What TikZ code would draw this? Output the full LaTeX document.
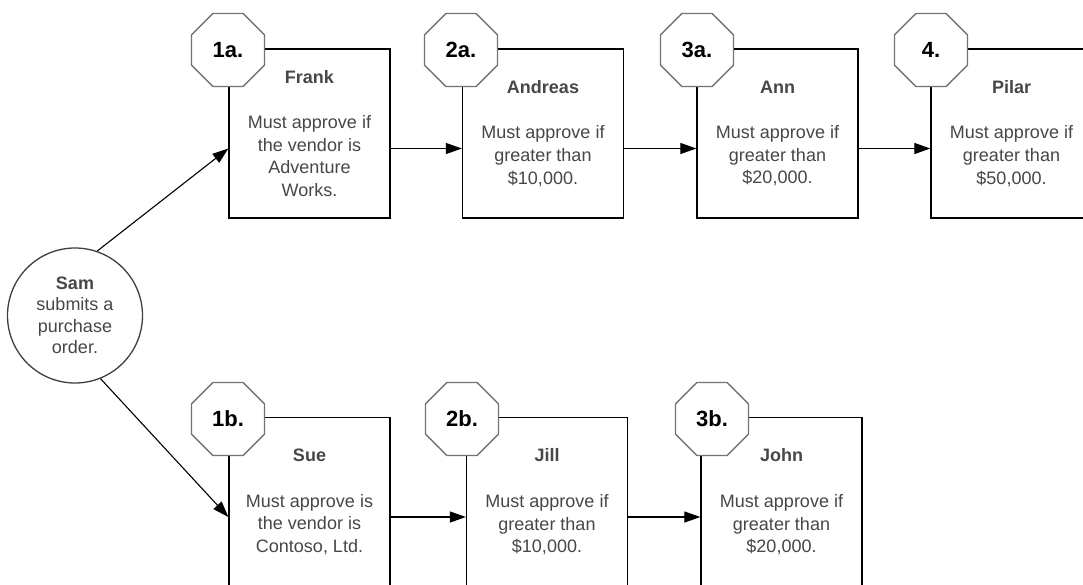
\documentclass[tikz,border=0pt]{standalone}
\usepackage{fontspec}
\setmainfont{Liberation Sans}
\usetikzlibrary{shapes.geometric,arrows.meta}
\begin{document}
\begin{tikzpicture}[x=1pt,y=-1pt,
  box/.style={draw=black,line width=1.3pt,minimum width=161pt,minimum height=169pt,
    inner sep=0pt,align=center,font=\fontsize{18}{22.7}\selectfont,text=black!72},
  oct/.style={regular polygon,regular polygon sides=8,draw=black!55,line width=1.3pt,
    fill=white,minimum size=79pt,inner sep=0pt,font=\fontsize{22}{26}\selectfont\bfseries},
  arr/.style={line width=1.1pt,-{Triangle[length=16pt,width=11pt]}},
  startnode/.style={circle,draw=black!75,line width=1.3pt,minimum size=135pt,inner sep=0pt,
    align=center,font=\fontsize{18}{21.5}\selectfont,text=black!72}]
\useasboundingbox (0,0) rectangle (1083,584);
\fill[white] (0,0) rectangle (1083,584);
\clip (0,0) rectangle (1083,584);
% top row boxes
\node[box] (frank) at (309.5,133.5) {\textbf{Frank}\\[22.7pt]Must approve if\\the vendor is\\Adventure\\Works.};
\node[box] (andreas) at (543,133.5) {\textbf{Andreas}\\[22.7pt]Must approve if\\greater than\\\$10,000.};
\node[box] (ann) at (777.5,133.5) {\textbf{Ann}\\[22.7pt]Must approve if\\greater than\\\$20,000.};
\node[box] (pilar) at (1011.5,133.5) {\textbf{Pilar}\\[22.7pt]Must approve if\\greater than\\\$50,000.};
% bottom row boxes
\node[box] (sue) at (309.5,502) {\textbf{Sue}\\[22.7pt]Must approve is\\the vendor is\\Contoso, Ltd.};
\node[box] (jill) at (547,502) {\textbf{Jill}\\[22.7pt]Must approve if\\greater than\\\$10,000.};
\node[box] (john) at (781.5,502) {\textbf{John}\\[22.7pt]Must approve if\\greater than\\\$20,000.};
% step labels
\node[oct] (o1a) at (228,50) {1a.};
\node[oct] (o2a) at (461,50) {2a.};
\node[oct] (o3a) at (697,50) {3a.};
\node[oct] (o4) at (931,50) {4.};
\node[oct] (o1b) at (228,419) {1b.};
\node[oct] (o2b) at (462,419) {2b.};
\node[oct] (o3b) at (712,419) {3b.};
% start
\node[startnode] (sam) at (75,315.5) {\textbf{Sam}\\submits a\\purchase\\order.};
% connectors
\draw[arr] (sam.71) -- ([yshift=-15pt]frank.west);
\draw[arr] (sam.-68) -- ([yshift=-15pt]sue.west);
\draw[arr] ([yshift=-15pt]frank.east) -- ([yshift=-15pt]andreas.west);
\draw[arr] ([yshift=-15pt]andreas.east) -- ([yshift=-15pt]ann.west);
\draw[arr] ([yshift=-15pt]ann.east) -- ([yshift=-15pt]pilar.west);
\draw[arr] ([yshift=-15pt]sue.east) -- ([yshift=-15pt]jill.west);
\draw[arr] ([yshift=-15pt]jill.east) -- ([yshift=-15pt]john.west);
\end{tikzpicture}
\end{document}
